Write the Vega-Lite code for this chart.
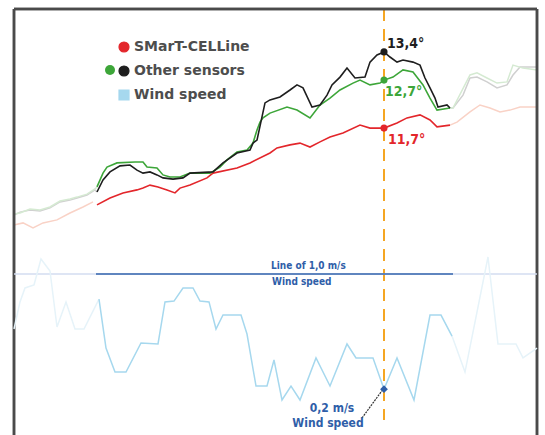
{
  "$schema": "https://vega.github.io/schema/vega-lite/v6.json",
  "width": 523,
  "height": 426,
  "autosize": "none",
  "padding": {"left": 14, "top": 9, "right": 8, "bottom": 0},
  "background": "white",
  "config": {"view": {"stroke": null}},
  "datasets": {
    "temp": [
      {"t": 0, "T": 7.93, "s": "Other sensors (faded)", "seg": "L"},
      {"t": 6, "T": 8.03, "s": "Other sensors (faded)", "seg": "L"},
      {"t": 16, "T": 8.10, "s": "Other sensors (faded)", "seg": "L"},
      {"t": 26, "T": 8.07, "s": "Other sensors (faded)", "seg": "L"},
      {"t": 36, "T": 8.17, "s": "Other sensors (faded)", "seg": "L"},
      {"t": 46, "T": 8.37, "s": "Other sensors (faded)", "seg": "L"},
      {"t": 56, "T": 8.43, "s": "Other sensors (faded)", "seg": "L"},
      {"t": 63, "T": 8.50, "s": "Other sensors (faded)", "seg": "L"},
      {"t": 73, "T": 8.60, "s": "Other sensors (faded)", "seg": "L"},
      {"t": 81, "T": 8.77, "s": "Other sensors (faded)", "seg": "L"},
      {"t": 83, "T": 8.70, "s": "Other sensors (faded)", "seg": "L"},
      {"t": 0, "T": 7.97, "s": "Other sensors (green, faded)", "seg": "L"},
      {"t": 6, "T": 8.00, "s": "Other sensors (green, faded)", "seg": "L"},
      {"t": 16, "T": 8.13, "s": "Other sensors (green, faded)", "seg": "L"},
      {"t": 26, "T": 8.10, "s": "Other sensors (green, faded)", "seg": "L"},
      {"t": 36, "T": 8.20, "s": "Other sensors (green, faded)", "seg": "L"},
      {"t": 46, "T": 8.40, "s": "Other sensors (green, faded)", "seg": "L"},
      {"t": 56, "T": 8.47, "s": "Other sensors (green, faded)", "seg": "L"},
      {"t": 63, "T": 8.53, "s": "Other sensors (green, faded)", "seg": "L"},
      {"t": 73, "T": 8.63, "s": "Other sensors (green, faded)", "seg": "L"},
      {"t": 81, "T": 8.80, "s": "Other sensors (green, faded)", "seg": "L"},
      {"t": 83, "T": 8.87, "s": "Other sensors (green, faded)", "seg": "L"},
      {"t": 436, "T": 11.50, "s": "Other sensors (faded)", "seg": "R"},
      {"t": 439, "T": 11.50, "s": "Other sensors (faded)", "seg": "R"},
      {"t": 449, "T": 11.93, "s": "Other sensors (faded)", "seg": "R"},
      {"t": 456, "T": 12.50, "s": "Other sensors (faded)", "seg": "R"},
      {"t": 463, "T": 12.53, "s": "Other sensors (faded)", "seg": "R"},
      {"t": 473, "T": 12.37, "s": "Other sensors (faded)", "seg": "R"},
      {"t": 483, "T": 12.17, "s": "Other sensors (faded)", "seg": "R"},
      {"t": 493, "T": 12.27, "s": "Other sensors (faded)", "seg": "R"},
      {"t": 499, "T": 12.60, "s": "Other sensors (faded)", "seg": "R"},
      {"t": 506, "T": 12.87, "s": "Other sensors (faded)", "seg": "R"},
      {"t": 516, "T": 12.87, "s": "Other sensors (faded)", "seg": "R"},
      {"t": 523, "T": 12.87, "s": "Other sensors (faded)", "seg": "R"},
      {"t": 436, "T": 11.50, "s": "Other sensors (green, faded)", "seg": "R"},
      {"t": 439, "T": 11.50, "s": "Other sensors (green, faded)", "seg": "R"},
      {"t": 456, "T": 12.60, "s": "Other sensors (green, faded)", "seg": "R"},
      {"t": 463, "T": 12.67, "s": "Other sensors (green, faded)", "seg": "R"},
      {"t": 473, "T": 12.50, "s": "Other sensors (green, faded)", "seg": "R"},
      {"t": 483, "T": 12.33, "s": "Other sensors (green, faded)", "seg": "R"},
      {"t": 493, "T": 12.37, "s": "Other sensors (green, faded)", "seg": "R"},
      {"t": 499, "T": 12.93, "s": "Other sensors (green, faded)", "seg": "R"},
      {"t": 509, "T": 12.83, "s": "Other sensors (green, faded)", "seg": "R"},
      {"t": 523, "T": 12.77, "s": "Other sensors (green, faded)", "seg": "R"},
      {"t": 0, "T": 7.60, "s": "SMarT-CELLine (faded)", "seg": "L"},
      {"t": 9, "T": 7.67, "s": "SMarT-CELLine (faded)", "seg": "L"},
      {"t": 19, "T": 7.50, "s": "SMarT-CELLine (faded)", "seg": "L"},
      {"t": 29, "T": 7.67, "s": "SMarT-CELLine (faded)", "seg": "L"},
      {"t": 43, "T": 7.77, "s": "SMarT-CELLine (faded)", "seg": "L"},
      {"t": 56, "T": 8.00, "s": "SMarT-CELLine (faded)", "seg": "L"},
      {"t": 69, "T": 8.20, "s": "SMarT-CELLine (faded)", "seg": "L"},
      {"t": 79, "T": 8.37, "s": "SMarT-CELLine (faded)", "seg": "L"},
      {"t": 436, "T": 10.93, "s": "SMarT-CELLine (faded)", "seg": "R"},
      {"t": 443, "T": 11.03, "s": "SMarT-CELLine (faded)", "seg": "R"},
      {"t": 456, "T": 11.37, "s": "SMarT-CELLine (faded)", "seg": "R"},
      {"t": 466, "T": 11.60, "s": "SMarT-CELLine (faded)", "seg": "R"},
      {"t": 476, "T": 11.50, "s": "SMarT-CELLine (faded)", "seg": "R"},
      {"t": 486, "T": 11.37, "s": "SMarT-CELLine (faded)", "seg": "R"},
      {"t": 496, "T": 11.43, "s": "SMarT-CELLine (faded)", "seg": "R"},
      {"t": 506, "T": 11.53, "s": "SMarT-CELLine (faded)", "seg": "R"},
      {"t": 523, "T": 11.53, "s": "SMarT-CELLine (faded)", "seg": "R"}
    ],
    "main": [
      {"t": 83, "T": 8.27, "s": "SMarT-CELLine"},
      {"t": 96, "T": 8.50, "s": "SMarT-CELLine"},
      {"t": 109, "T": 8.67, "s": "SMarT-CELLine"},
      {"t": 123, "T": 8.77, "s": "SMarT-CELLine"},
      {"t": 129, "T": 8.83, "s": "SMarT-CELLine"},
      {"t": 136, "T": 8.93, "s": "SMarT-CELLine"},
      {"t": 144, "T": 8.87, "s": "SMarT-CELLine"},
      {"t": 153, "T": 8.77, "s": "SMarT-CELLine"},
      {"t": 161, "T": 8.67, "s": "SMarT-CELLine"},
      {"t": 166, "T": 8.83, "s": "SMarT-CELLine"},
      {"t": 176, "T": 8.93, "s": "SMarT-CELLine"},
      {"t": 193, "T": 9.17, "s": "SMarT-CELLine"},
      {"t": 199, "T": 9.33, "s": "SMarT-CELLine"},
      {"t": 223, "T": 9.50, "s": "SMarT-CELLine"},
      {"t": 236, "T": 9.67, "s": "SMarT-CELLine"},
      {"t": 256, "T": 10.00, "s": "SMarT-CELLine"},
      {"t": 263, "T": 10.17, "s": "SMarT-CELLine"},
      {"t": 276, "T": 10.27, "s": "SMarT-CELLine"},
      {"t": 286, "T": 10.33, "s": "SMarT-CELLine"},
      {"t": 296, "T": 10.20, "s": "SMarT-CELLine"},
      {"t": 306, "T": 10.37, "s": "SMarT-CELLine"},
      {"t": 316, "T": 10.53, "s": "SMarT-CELLine"},
      {"t": 329, "T": 10.67, "s": "SMarT-CELLine"},
      {"t": 346, "T": 10.93, "s": "SMarT-CELLine"},
      {"t": 356, "T": 10.83, "s": "SMarT-CELLine"},
      {"t": 370, "T": 10.83, "s": "SMarT-CELLine"},
      {"t": 383, "T": 11.00, "s": "SMarT-CELLine"},
      {"t": 393, "T": 11.17, "s": "SMarT-CELLine"},
      {"t": 406, "T": 11.27, "s": "SMarT-CELLine"},
      {"t": 416, "T": 11.10, "s": "SMarT-CELLine"},
      {"t": 423, "T": 10.87, "s": "SMarT-CELLine"},
      {"t": 436, "T": 10.93, "s": "SMarT-CELLine"},
      {"t": 83, "T": 8.87, "s": "Other sensors (green)"},
      {"t": 89, "T": 9.33, "s": "Other sensors (green)"},
      {"t": 93, "T": 9.53, "s": "Other sensors (green)"},
      {"t": 103, "T": 9.67, "s": "Other sensors (green)"},
      {"t": 121, "T": 9.70, "s": "Other sensors (green)"},
      {"t": 129, "T": 9.70, "s": "Other sensors (green)"},
      {"t": 133, "T": 9.53, "s": "Other sensors (green)"},
      {"t": 143, "T": 9.50, "s": "Other sensors (green)"},
      {"t": 149, "T": 9.27, "s": "Other sensors (green)"},
      {"t": 156, "T": 9.20, "s": "Other sensors (green)"},
      {"t": 166, "T": 9.20, "s": "Other sensors (green)"},
      {"t": 176, "T": 9.33, "s": "Other sensors (green)"},
      {"t": 196, "T": 9.33, "s": "Other sensors (green)"},
      {"t": 206, "T": 9.53, "s": "Other sensors (green)"},
      {"t": 213, "T": 9.77, "s": "Other sensors (green)"},
      {"t": 223, "T": 10.03, "s": "Other sensors (green)"},
      {"t": 233, "T": 10.10, "s": "Other sensors (green)"},
      {"t": 239, "T": 10.33, "s": "Other sensors (green)"},
      {"t": 243, "T": 10.77, "s": "Other sensors (green)"},
      {"t": 246, "T": 11.03, "s": "Other sensors (green)"},
      {"t": 249, "T": 11.17, "s": "Other sensors (green)"},
      {"t": 256, "T": 11.33, "s": "Other sensors (green)"},
      {"t": 273, "T": 11.53, "s": "Other sensors (green)"},
      {"t": 283, "T": 11.43, "s": "Other sensors (green)"},
      {"t": 296, "T": 11.17, "s": "Other sensors (green)"},
      {"t": 306, "T": 11.60, "s": "Other sensors (green)"},
      {"t": 316, "T": 11.83, "s": "Other sensors (green)"},
      {"t": 326, "T": 12.10, "s": "Other sensors (green)"},
      {"t": 339, "T": 12.33, "s": "Other sensors (green)"},
      {"t": 346, "T": 12.43, "s": "Other sensors (green)"},
      {"t": 356, "T": 12.27, "s": "Other sensors (green)"},
      {"t": 366, "T": 12.33, "s": "Other sensors (green)"},
      {"t": 370, "T": 12.43, "s": "Other sensors (green)"},
      {"t": 379, "T": 12.53, "s": "Other sensors (green)"},
      {"t": 389, "T": 12.77, "s": "Other sensors (green)"},
      {"t": 399, "T": 12.70, "s": "Other sensors (green)"},
      {"t": 409, "T": 12.27, "s": "Other sensors (green)"},
      {"t": 416, "T": 11.83, "s": "Other sensors (green)"},
      {"t": 423, "T": 11.43, "s": "Other sensors (green)"},
      {"t": 436, "T": 11.50, "s": "Other sensors (green)"},
      {"t": 83, "T": 8.70, "s": "Other sensors"},
      {"t": 89, "T": 9.10, "s": "Other sensors"},
      {"t": 96, "T": 9.37, "s": "Other sensors"},
      {"t": 106, "T": 9.57, "s": "Other sensors"},
      {"t": 116, "T": 9.60, "s": "Other sensors"},
      {"t": 123, "T": 9.43, "s": "Other sensors"},
      {"t": 129, "T": 9.33, "s": "Other sensors"},
      {"t": 136, "T": 9.37, "s": "Other sensors"},
      {"t": 143, "T": 9.27, "s": "Other sensors"},
      {"t": 149, "T": 9.17, "s": "Other sensors"},
      {"t": 159, "T": 9.13, "s": "Other sensors"},
      {"t": 169, "T": 9.17, "s": "Other sensors"},
      {"t": 176, "T": 9.33, "s": "Other sensors"},
      {"t": 199, "T": 9.37, "s": "Other sensors"},
      {"t": 209, "T": 9.67, "s": "Other sensors"},
      {"t": 223, "T": 10.00, "s": "Other sensors"},
      {"t": 236, "T": 10.10, "s": "Other sensors"},
      {"t": 239, "T": 10.33, "s": "Other sensors"},
      {"t": 243, "T": 10.43, "s": "Other sensors"},
      {"t": 251, "T": 11.67, "s": "Other sensors"},
      {"t": 256, "T": 11.77, "s": "Other sensors"},
      {"t": 266, "T": 11.87, "s": "Other sensors"},
      {"t": 276, "T": 12.10, "s": "Other sensors"},
      {"t": 283, "T": 12.27, "s": "Other sensors"},
      {"t": 289, "T": 12.17, "s": "Other sensors"},
      {"t": 298, "T": 11.53, "s": "Other sensors"},
      {"t": 306, "T": 11.60, "s": "Other sensors"},
      {"t": 313, "T": 11.93, "s": "Other sensors"},
      {"t": 318, "T": 12.27, "s": "Other sensors"},
      {"t": 326, "T": 12.53, "s": "Other sensors"},
      {"t": 333, "T": 12.83, "s": "Other sensors"},
      {"t": 341, "T": 12.50, "s": "Other sensors"},
      {"t": 351, "T": 12.53, "s": "Other sensors"},
      {"t": 356, "T": 13.03, "s": "Other sensors"},
      {"t": 363, "T": 13.27, "s": "Other sensors"},
      {"t": 370, "T": 13.37, "s": "Other sensors"},
      {"t": 376, "T": 13.20, "s": "Other sensors"},
      {"t": 383, "T": 13.03, "s": "Other sensors"},
      {"t": 389, "T": 13.10, "s": "Other sensors"},
      {"t": 399, "T": 13.03, "s": "Other sensors"},
      {"t": 406, "T": 12.93, "s": "Other sensors"},
      {"t": 411, "T": 12.50, "s": "Other sensors"},
      {"t": 416, "T": 12.17, "s": "Other sensors"},
      {"t": 421, "T": 11.83, "s": "Other sensors"},
      {"t": 424, "T": 11.53, "s": "Other sensors"},
      {"t": 433, "T": 11.60, "s": "Other sensors"},
      {"t": 436, "T": 11.50, "s": "Other sensors"}
    ],
    "markers": [
      {"t": 370, "T": 13.37, "s": "Other sensors"},
      {"t": 370, "T": 10.83, "s": "SMarT-CELLine"}
    ],
    "gmarker": [
      {"t": 370, "T": 12.43, "s": "green"}
    ],
    "tlabels": [
      {"t": 373, "T": 13.63, "label": "13,4°", "s": "Other sensors"},
      {"t": 371, "T": 12.03, "label": "12,7°", "s": "Other sensors (green)"},
      {"t": 374, "T": 10.45, "label": "11,7°", "s": "SMarT-CELLine"}
    ],
    "wind": [
      {"t": 0, "W": 1.0, "s": "1 m/s line (faded)", "seg": "A"},
      {"t": 523, "W": 1.0, "s": "1 m/s line (faded)", "seg": "A"},
      {"t": 82, "W": 1.0, "s": "1 m/s line", "seg": "A"},
      {"t": 439, "W": 1.0, "s": "1 m/s line", "seg": "A"},
      {"t": 0, "W": 0.618, "s": "Wind speed (faded)", "seg": "L"},
      {"t": 6, "W": 0.806, "s": "Wind speed (faded)", "seg": "L"},
      {"t": 11, "W": 0.903, "s": "Wind speed (faded)", "seg": "L"},
      {"t": 20, "W": 0.924, "s": "Wind speed (faded)", "seg": "L"},
      {"t": 27, "W": 1.104, "s": "Wind speed (faded)", "seg": "L"},
      {"t": 36, "W": 1.021, "s": "Wind speed (faded)", "seg": "L"},
      {"t": 43, "W": 0.632, "s": "Wind speed (faded)", "seg": "L"},
      {"t": 52, "W": 0.806, "s": "Wind speed (faded)", "seg": "L"},
      {"t": 61, "W": 0.618, "s": "Wind speed (faded)", "seg": "L"},
      {"t": 70, "W": 0.618, "s": "Wind speed (faded)", "seg": "L"},
      {"t": 85, "W": 0.826, "s": "Wind speed (faded)", "seg": "L"},
      {"t": 438, "W": 0.569, "s": "Wind speed (faded)", "seg": "R"},
      {"t": 451, "W": 0.319, "s": "Wind speed (faded)", "seg": "R"},
      {"t": 474, "W": 1.118, "s": "Wind speed (faded)", "seg": "R"},
      {"t": 484, "W": 0.514, "s": "Wind speed (faded)", "seg": "R"},
      {"t": 502, "W": 0.514, "s": "Wind speed (faded)", "seg": "R"},
      {"t": 509, "W": 0.417, "s": "Wind speed (faded)", "seg": "R"},
      {"t": 523, "W": 0.486, "s": "Wind speed (faded)", "seg": "R"},
      {"t": 85, "W": 0.826, "s": "Wind speed", "seg": "M"},
      {"t": 92, "W": 0.486, "s": "Wind speed", "seg": "M"},
      {"t": 101, "W": 0.319, "s": "Wind speed", "seg": "M"},
      {"t": 112, "W": 0.319, "s": "Wind speed", "seg": "M"},
      {"t": 127, "W": 0.521, "s": "Wind speed", "seg": "M"},
      {"t": 144, "W": 0.514, "s": "Wind speed", "seg": "M"},
      {"t": 151, "W": 0.806, "s": "Wind speed", "seg": "M"},
      {"t": 160, "W": 0.812, "s": "Wind speed", "seg": "M"},
      {"t": 169, "W": 0.903, "s": "Wind speed", "seg": "M"},
      {"t": 179, "W": 0.903, "s": "Wind speed", "seg": "M"},
      {"t": 186, "W": 0.812, "s": "Wind speed", "seg": "M"},
      {"t": 195, "W": 0.806, "s": "Wind speed", "seg": "M"},
      {"t": 202, "W": 0.618, "s": "Wind speed", "seg": "M"},
      {"t": 209, "W": 0.715, "s": "Wind speed", "seg": "M"},
      {"t": 227, "W": 0.715, "s": "Wind speed", "seg": "M"},
      {"t": 233, "W": 0.583, "s": "Wind speed", "seg": "M"},
      {"t": 242, "W": 0.222, "s": "Wind speed", "seg": "M"},
      {"t": 253, "W": 0.222, "s": "Wind speed", "seg": "M"},
      {"t": 260, "W": 0.403, "s": "Wind speed", "seg": "M"},
      {"t": 268, "W": 0.125, "s": "Wind speed", "seg": "M"},
      {"t": 277, "W": 0.222, "s": "Wind speed", "seg": "M"},
      {"t": 286, "W": 0.125, "s": "Wind speed", "seg": "M"},
      {"t": 302, "W": 0.417, "s": "Wind speed", "seg": "M"},
      {"t": 316, "W": 0.222, "s": "Wind speed", "seg": "M"},
      {"t": 333, "W": 0.514, "s": "Wind speed", "seg": "M"},
      {"t": 342, "W": 0.417, "s": "Wind speed", "seg": "M"},
      {"t": 359, "W": 0.417, "s": "Wind speed", "seg": "M"},
      {"t": 370, "W": 0.2, "s": "Wind speed", "seg": "M"},
      {"t": 383, "W": 0.417, "s": "Wind speed", "seg": "M"},
      {"t": 400, "W": 0.125, "s": "Wind speed", "seg": "M"},
      {"t": 416, "W": 0.715, "s": "Wind speed", "seg": "M"},
      {"t": 427, "W": 0.715, "s": "Wind speed", "seg": "M"},
      {"t": 438, "W": 0.569, "s": "Wind speed", "seg": "M"}
    ],
    "wlabels": [
      {"t": 257, "W": 1.056, "label": "Line of 1,0 m/s", "grp": "line"},
      {"t": 258, "W": 0.944, "label": "Wind speed", "grp": "line"},
      {"t": 318, "W": 0.069, "label": "0,2 m/s", "grp": "point"},
      {"t": 314, "W": -0.035, "label": "Wind speed", "grp": "point"}
    ],
    "leader": [
      {"t": 348, "W": 0.0, "t2": 368, "W2": 0.19}
    ],
    "wmarker": [
      {"t": 370, "W": 0.2}
    ]
  },
  "resolve": {"scale": {"y": "independent"}},
  "layer": [
    {
      "layer": [
        {
          "data": {"name": "temp"},
          "mark": {"type": "line", "strokeWidth": 1.5},
          "encoding": {
            "x": {"field": "t", "type": "quantitative", "scale": {"domain": [0, 523], "nice": false, "zero": false}, "axis": null},
            "y": {"field": "T", "type": "quantitative", "scale": {"domain": [0.6, 14.8], "nice": false, "zero": false}, "axis": null},
            "detail": {"field": "seg"},
            "color": {"field": "s", "type": "nominal",
              "scale": {"domain": ["SMarT-CELLine", "Other sensors", "Wind speed", "Other sensors (green)", "SMarT-CELLine (faded)", "Other sensors (faded)", "Other sensors (green, faded)", "Wind speed (faded)", "1 m/s line", "1 m/s line (faded)"],
                        "range": ["#e3262b", "#1e1e1e", "#a6d8ee", "#3da639", "#f9d2c6", "#d0d0d0", "#d5ead2", "#e6f3f9", "#3565ae", "#d3ddf0"]},
              "legend": {
                "orient": "none", "legendX": 103, "legendY": 31, "title": null,
                "values": ["SMarT-CELLine", "Other sensors", "Wind speed"],
                "symbolType": "circle", "symbolSize": 100, "symbolStrokeWidth": 0, "symbolOpacity": 1,
                "labelFont": "DejaVu Sans", "labelFontSize": 14, "labelFontWeight": "bold", "labelColor": "#4d4d4d",
                "labelOffset": 3, "rowPadding": 8, "padding": 0,
                "encode": {"symbols": {"update": {
                  "fill": {"scale": "color", "field": "value"},
                  "shape": {"signal": "datum.value === 'Wind speed' ? 'square' : 'circle'"},
                  "stroke": {"signal": "datum.value === 'SMarT-CELLine' ? '#3a3a3a' : null"},
                  "strokeWidth": {"value": 1.2},
                  "opacity": {"value": 1}
                }}}
              }}
          }
        },
        {
          "data": {"name": "main"},
          "mark": {"type": "line", "strokeWidth": 1.6},
          "encoding": {
            "x": {"field": "t", "type": "quantitative"},
            "y": {"field": "T", "type": "quantitative"},
            "color": {"field": "s", "type": "nominal"}
          }
        },
        {
          "data": {"name": "markers"},
          "mark": {"type": "rule", "color": "#f5a623", "strokeWidth": 2, "strokeDash": [12, 8]},
          "encoding": {
            "x": {"datum": 370, "type": "quantitative"},
            "y": {"datum": 14.8, "type": "quantitative"},
            "y2": {"datum": 1.1}
          }
        },
        {
          "data": {"name": "markers"},
          "mark": {"type": "point", "filled": true, "opacity": 1, "size": 50},
          "encoding": {
            "x": {"field": "t", "type": "quantitative"},
            "y": {"field": "T", "type": "quantitative"},
            "color": {"field": "s", "type": "nominal"}
          }
        },
        {
          "data": {"name": "gmarker"},
          "mark": {"type": "point", "opacity": 1, "size": 50, "strokeWidth": 0},
          "encoding": {
            "x": {"field": "t", "type": "quantitative"},
            "y": {"field": "T", "type": "quantitative"},
            "fill": {"field": "s", "type": "nominal", "scale": {"domain": ["green"], "range": ["#3da639"]},
              "legend": {"orient": "none", "legendX": 89, "legendY": 54, "title": null, "labelExpr": "' '",
                "symbolType": "circle", "symbolSize": 100, "symbolStrokeWidth": 0, "symbolOpacity": 1,
                "labelFontSize": 14, "padding": 0}}
          }
        },
        {
          "data": {"name": "tlabels"},
          "mark": {"type": "text", "align": "left", "baseline": "middle", "font": "DejaVu Sans Condensed", "fontSize": 14, "fontWeight": "bold"},
          "encoding": {
            "x": {"field": "t", "type": "quantitative"},
            "y": {"field": "T", "type": "quantitative"},
            "text": {"field": "label"},
            "color": {"field": "s", "type": "nominal"}
          }
        },
        {
          "data": {"name": "markers"},
          "mark": {"type": "rule", "color": "#4a4a4a", "strokeWidth": 2.5},
          "encoding": {
            "x": {"datum": 0, "type": "quantitative"},
            "x2": {"datum": 523},
            "y": {"datum": 14.8, "type": "quantitative"}
          }
        },
        {
          "data": {"name": "markers"},
          "mark": {"type": "rule", "color": "#4a4a4a", "strokeWidth": 2.5},
          "encoding": {"x": {"datum": 0, "type": "quantitative"}}
        },
        {
          "data": {"name": "markers"},
          "mark": {"type": "rule", "color": "#4a4a4a", "strokeWidth": 2.5},
          "encoding": {"x": {"datum": 523, "type": "quantitative"}}
        }
      ]
    },
    {
      "layer": [
        {
          "data": {"name": "wind"},
          "mark": {"type": "line", "strokeWidth": 1.5},
          "encoding": {
            "x": {"field": "t", "type": "quantitative"},
            "y": {"field": "W", "type": "quantitative", "scale": {"domain": [-0.118, 2.84], "nice": false, "zero": false}, "axis": null},
            "detail": {"field": "seg"},
            "color": {"field": "s", "type": "nominal"}
          }
        },
        {
          "data": {"name": "leader"},
          "mark": {"type": "rule", "color": "#333333", "strokeWidth": 1.2, "strokeDash": [2, 1]},
          "encoding": {
            "x": {"field": "t", "type": "quantitative"},
            "x2": {"field": "t2"},
            "y": {"field": "W", "type": "quantitative"},
            "y2": {"field": "W2"}
          }
        },
        {
          "data": {"name": "wmarker"},
          "mark": {"type": "point", "shape": "diamond", "filled": true, "opacity": 1, "size": 60, "color": "#2f5fa8"},
          "encoding": {
            "x": {"field": "t", "type": "quantitative"},
            "y": {"field": "W", "type": "quantitative"}
          }
        },
        {
          "data": {"name": "wlabels"},
          "transform": [{"filter": "datum.grp === 'line'"}],
          "mark": {"type": "text", "align": "left", "baseline": "middle", "font": "DejaVu Sans Condensed", "fontSize": 10, "fontWeight": "bold", "color": "#2f5ea8"},
          "encoding": {
            "x": {"field": "t", "type": "quantitative"},
            "y": {"field": "W", "type": "quantitative"},
            "text": {"field": "label"}
          }
        },
        {
          "data": {"name": "wlabels"},
          "transform": [{"filter": "datum.grp === 'point'"}],
          "mark": {"type": "text", "align": "center", "baseline": "middle", "font": "DejaVu Sans Condensed", "fontSize": 12, "fontWeight": "bold", "color": "#2f5ea8"},
          "encoding": {
            "x": {"field": "t", "type": "quantitative"},
            "y": {"field": "W", "type": "quantitative"},
            "text": {"field": "label"}
          }
        }
      ]
    }
  ]
}
